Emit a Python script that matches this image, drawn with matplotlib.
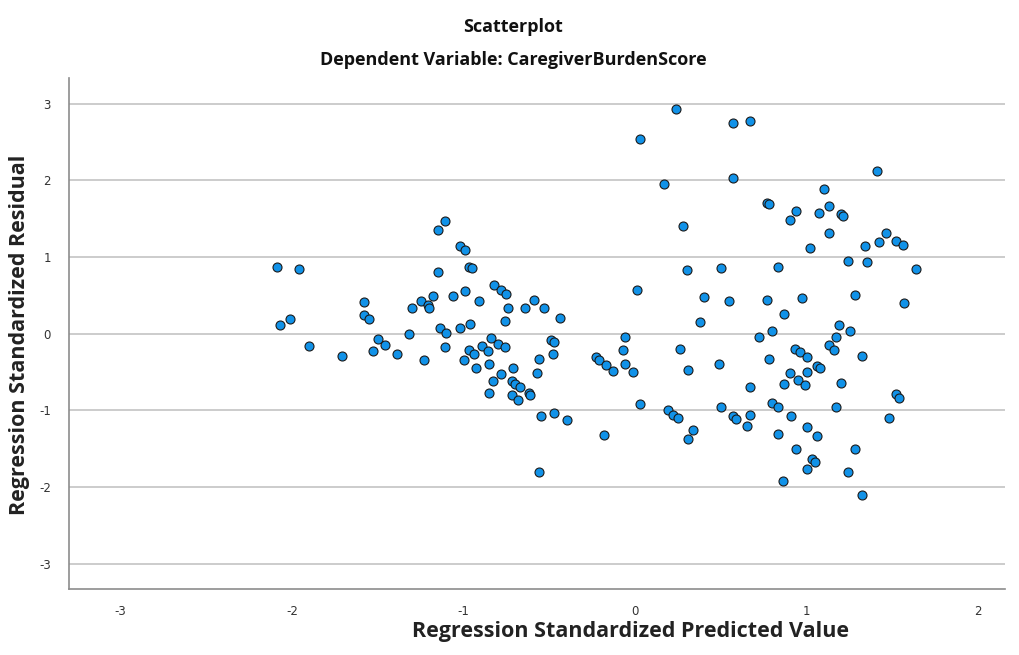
import matplotlib
matplotlib.use("Agg")
import matplotlib.pyplot as plt

# Regression standardized predicted values (x) and residuals (y)
x_pred = [
    -2.09, -1.96, -1.58, -1.58, -1.55, -2.07, -2.01, -1.90, -1.71, -1.50,
    -1.46, -1.53, -1.39, -1.30, -1.32, -1.23, -1.25, -1.21, -1.20, -1.18,
    -1.15, -1.11, -1.15, -1.02, -0.99, -0.97, -0.95, -0.82, -0.78, -0.75,
    -0.99, -1.06, -0.91, -0.74, -0.64, -0.59, -0.53, -0.44, -0.76, -0.96,
    -1.02, -1.14, -1.10, -1.11, -0.97, -0.94, -1.00, -0.93, -0.89, -0.84,
    -0.86, -0.80, -0.76, -0.85, -0.78, -0.71, -0.83, -0.72, -0.70, -0.67,
    -0.85, -0.72, -0.68, -0.62, -0.61, -0.56, -0.57, -0.49, -0.47, -0.48,
    -0.55, -0.47, -0.40, -0.56,
    -0.23, -0.21, -0.17, -0.13, -0.06, -0.07, -0.06, -0.01, 0.03, -0.18,
    0.01, 0.03, 0.24, 0.17, 0.28, 0.30, 0.40, 0.38, 0.19, 0.22,
    0.25, 0.26, 0.31, 0.34, 0.31,
    0.57, 0.67, 0.57, 1.41, 1.10, 0.77, 0.78, 0.94, 0.90, 1.07,
    1.13, 1.20, 1.21, 1.13, 1.02, 1.34, 1.42, 1.46, 1.52, 1.56,
    0.50, 0.83, 1.24, 1.35, 1.64, 0.55, 0.77, 0.97, 1.28, 1.57,
    0.87, 1.19, 1.25, 0.80, 0.72, 0.49, 0.78, 0.93, 0.96, 1.00,
    1.13, 1.17, 1.16, 1.32, 1.06, 1.08, 0.90, 1.00, 0.87, 0.95,
    0.99, 1.20, 0.67, 1.52, 1.54, 0.50, 0.80, 0.83, 1.17, 1.48,
    0.57, 0.59, 0.67, 0.65, 0.91, 0.83, 1.00, 1.06, 0.94, 1.28,
    1.03, 1.05, 1.00, 1.24, 0.86, 1.32,
]
y_resid = [
    0.87, 0.84, 0.41, 0.24, 0.19, 0.11, 0.19, -0.16, -0.29, -0.07,
    -0.15, -0.23, -0.27, 0.33, -0.01, -0.34, 0.43, 0.37, 0.33, 0.49,
    0.81, 1.47, 1.35, 1.15, 1.09, 0.87, 0.86, 0.64, 0.57, 0.52,
    0.56, 0.49, 0.43, 0.33, 0.34, 0.44, 0.34, 0.20, 0.17, 0.13,
    0.07, 0.07, 0.01, -0.17, -0.21, -0.26, -0.34, -0.45, -0.16, -0.06,
    -0.22, -0.13, -0.18, -0.40, -0.52, -0.45, -0.62, -0.62, -0.65, -0.69,
    -0.78, -0.80, -0.87, -0.77, -0.80, -0.33, -0.51, -0.08, -0.11, -0.27,
    -1.08, -1.03, -1.13, -1.80,
    -0.31, -0.34, -0.41, -0.49, -0.04, -0.21, -0.40, -0.50, -0.92, -1.32,
    0.57, 2.54, 2.93, 1.95, 1.41, 0.83, 0.48, 0.15, -1.00, -1.06,
    -1.10, -0.20, -0.47, -1.25, -1.38,
    2.75, 2.78, 2.03, 2.12, 1.89, 1.71, 1.69, 1.60, 1.48, 1.58,
    1.67, 1.56, 1.54, 1.31, 1.12, 1.14, 1.20, 1.31, 1.21, 1.16,
    0.86, 0.87, 0.95, 0.94, 0.84, 0.42, 0.44, 0.47, 0.51, 0.40,
    0.26, 0.11, 0.03, 0.03, -0.04, -0.40, -0.33, -0.20, -0.24, -0.31,
    -0.15, -0.04, -0.21, -0.29, -0.42, -0.45, -0.51, -0.50, -0.65, -0.61,
    -0.67, -0.64, -0.69, -0.79, -0.84, -0.96, -0.91, -0.95, -0.96, -1.10,
    -1.08, -1.11, -1.06, -1.20, -1.08, -1.31, -1.22, -1.33, -1.50, -1.50,
    -1.63, -1.67, -1.77, -1.80, -1.92, -2.11,
]

title_main = "Scatterplot"
title_sub = "Dependent Variable: CaregiverBurdenScore"
xlabel = "Regression Standardized Predicted Value"
ylabel = "Regression Standardized Residual"
xticks = [-3, -2, -1, 0, 1, 2]
yticks = [-3, -2, -1, 0, 1, 2, 3]
xtick_labels = ["-3", "-2", "-1", "0", "1", "2"]
ytick_labels = ["-3", "-2", "-1", "0", "1", "2", "3"]

head_font = ["Open Sans", "DejaVu Sans"]

fig = plt.figure(figsize=(10.19, 6.55), dpi=100)
ax = fig.add_axes([69 / 1019, 1 - 589.3 / 655, (1005 - 69) / 1019, (589.3 - 78) / 655])

ax.set_xlim(-3.30, 2.156)
ax.set_ylim(-3.334, 3.335)
ax.set_xticks(xticks)
ax.set_yticks(yticks)
ax.set_xticklabels(xtick_labels)
ax.set_yticklabels(ytick_labels)
ax.set_axisbelow(True)
ax.yaxis.grid(True, color="#cccccc", linewidth=1.4)
ax.xaxis.grid(False)

for side in ("top", "right"):
    ax.spines[side].set_visible(False)
for side in ("left", "bottom"):
    ax.spines[side].set_color("#8c8c8c")
    ax.spines[side].set_linewidth(1.2)

ax.tick_params(axis="both", labelsize=8.5, colors="#333333", length=0)
ax.tick_params(axis="y", pad=13)
ax.tick_params(axis="x", pad=11)

ax.scatter(x_pred, y_resid, s=42, c="#1192E8", edgecolors="#1a1a1a",
           linewidths=0.8, zorder=3)

fig.text(513 / 1019, 1 - 27 / 655, title_main, ha="center", va="center",
         fontsize=13, fontweight="bold", family=head_font, color="#111111")
fig.text(513 / 1019, 1 - 60 / 655, title_sub, ha="center", va="center",
         fontsize=13, fontweight="bold", family=head_font, color="#111111")
fig.text(631 / 1019, 1 - 632 / 655, xlabel, ha="center", va="center",
         fontsize=15.5, fontweight="bold", family=head_font, color="#222222")
fig.text(20 / 1019, 1 - 335 / 655, ylabel, ha="center", va="center",
         rotation=90, fontsize=15.5, fontweight="bold", family=head_font,
         color="#222222")

fig.savefig("out.png", dpi=100)
